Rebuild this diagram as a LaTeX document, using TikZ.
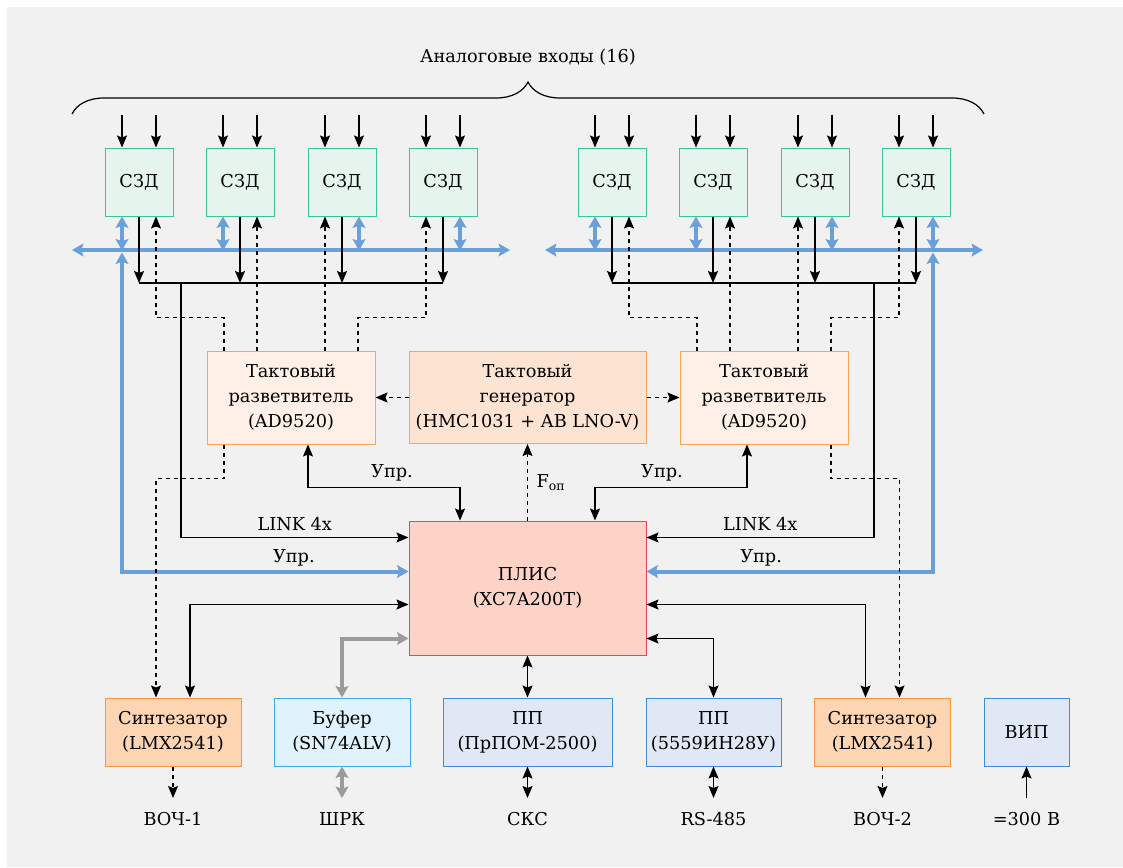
\documentclass[tikz,border=0pt]{standalone}
\usepackage{fontspec}
\setmainfont{DejaVu Serif}
\usetikzlibrary{arrows.meta,calc,decorations.pathreplacing}

\definecolor{bgcol}{HTML}{F1F1F1}
\definecolor{szdfill}{HTML}{E6F4EE}
\definecolor{szdline}{HTML}{3CC397}
\definecolor{splfill}{HTML}{FEF0E6}
\definecolor{genfill}{HTML}{FDE4D2}
\definecolor{clkline}{HTML}{F9A55A}
\definecolor{plisfill}{HTML}{FDD3C7}
\definecolor{plisline}{HTML}{E8475B}
\definecolor{synfill}{HTML}{FDD5B2}
\definecolor{synline}{HTML}{F7953C}
\definecolor{buffill}{HTML}{E0F2FB}
\definecolor{bufline}{HTML}{3AB0E2}
\definecolor{ppfill}{HTML}{E0E8F5}
\definecolor{ppline}{HTML}{3E8FD2}
\definecolor{busblue}{HTML}{6A9FD8}
\definecolor{busgray}{HTML}{9B9B9B}

\tikzset{
  box/.style={inner sep=0pt, align=center, line width=0.75pt},
  szd/.style={box, draw=szdline, fill=szdfill, minimum width=51pt, minimum height=51pt},
  splitter/.style={box, draw=clkline, fill=splfill, minimum width=126pt, minimum height=69.75pt},
  clockgen/.style={box, draw=clkline, fill=genfill, minimum width=177.75pt, minimum height=69pt},
  plisbox/.style={box, draw=plisline, fill=plisfill, minimum width=177.75pt, minimum height=100.5pt},
  synbox/.style={box, draw=synline, fill=synfill, minimum width=102pt, minimum height=51pt},
  bufbox/.style={box, draw=bufline, fill=buffill, minimum width=102pt, minimum height=51pt},
  ppbox/.style={box, draw=ppline, fill=ppfill, minimum height=51pt},
  term/.style={anchor=north, inner xsep=0pt, inner ysep=10.5pt},
  wire/.style={line width=0.9pt, >={Stealth[length=9pt,width=7.5pt,inset=1.5pt]}},
  clk/.style={wire, dash pattern=on 3pt off 3pt},
  bus/.style={line width=3pt, color=busblue, >={Stealth[length=8.5pt,width=9.5pt,inset=1.5pt]}},
  gbus/.style={line width=3pt, color=busgray, >={Stealth[length=8.5pt,width=9.5pt,inset=1.5pt]}},
}

\begin{document}
\begin{tikzpicture}[x=0.75pt,y=0.75pt,yscale=-1,xscale=1,font=\fontsize{13.3pt}{18.75pt}\selectfont]
	\useasboundingbox (0,0) rectangle (1123,867);
	\fill[white] (0,0) rectangle (1123,867);
	\fill[bgcol] (7,7) rectangle (1123,867);

	% Brace + title
	\draw[line width=0.9pt, decorate, decoration={brace, amplitude=24pt}] (72,114) -- (984,114);
	\node (title) at (528,57) {Аналоговые входы (16)};

	% СЗД
	\node[szd] (szd1) at (139,182) {СЗД};
	\node[szd] (szd2) at (240,182) {СЗД};
	\node[szd] (szd3) at (342,182) {СЗД};
	\node[szd] (szd4) at (443,182) {СЗД};
	\node[szd] (szd5) at (612,182) {СЗД};
	\node[szd] (szd6) at (713,182) {СЗД};
	\node[szd] (szd7) at (815,182) {СЗД};
	\node[szd] (szd8) at (916,182) {СЗД};

	% Clock boxes
	\node[splitter] (spl1) at (291,397.5) {Тактовый\\разветвитель\\(AD9520)};
	\node[clockgen] (gen) at (527.5,397.5) {Тактовый\\генератор\\(HMC1031 + AB LNO-V)};
	\node[splitter] (spl2) at (764,397.5) {Тактовый\\разветвитель\\(AD9520)};

	% ПЛИС
	\node[plisbox] (plis) at (527.5,588) {ПЛИС\\(XC7A200T)};

	% Bottom row
	\node[synbox] (syn1) at (173,732) {Синтезатор\\(LMX2541)};
	\node[bufbox] (buf) at (342,732) {Буфер\\(SN74ALV)};
	\node[ppbox, minimum width=126.75pt] (pp1) at (527.5,732) {ПП\\(ПрПОМ-2500)};
	\node[ppbox, minimum width=101.25pt] (pp2) at (713.5,732) {ПП\\(5559ИН28У)};
	\node[synbox] (syn2) at (882.5,732) {Синтезатор\\(LMX2541)};
	\node[ppbox, minimum width=63.75pt] (vip) at (1026.5,732) {ВИП};

	% Terminals
	\node[term] (voch1) at (173,798) {ВОЧ-1};
	\node[term] (shrk) at (342,798) {ШРК};
	\node[term] (sks) at (527.5,798) {СКС};
	\node[term] (rs485) at (713.5,798) {RS-485};
	\node[term] (voch2) at (882.5,798) {ВОЧ-2};
	\node[term] (pwr) at (1026.5,798) {=300 В};

	% Analog inputs
	\draw[wire,->] ($(szd1.north)+(-17,-33)$) -- ($(szd1.north)+(-17,0)$);
	\draw[wire,->] ($(szd1.north)+(17,-33)$) -- ($(szd1.north)+(17,0)$);
	\draw[wire,->] ($(szd2.north)+(-17,-33)$) -- ($(szd2.north)+(-17,0)$);
	\draw[wire,->] ($(szd2.north)+(17,-33)$) -- ($(szd2.north)+(17,0)$);
	\draw[wire,->] ($(szd3.north)+(-17,-33)$) -- ($(szd3.north)+(-17,0)$);
	\draw[wire,->] ($(szd3.north)+(17,-33)$) -- ($(szd3.north)+(17,0)$);
	\draw[wire,->] ($(szd4.north)+(-17,-33)$) -- ($(szd4.north)+(-17,0)$);
	\draw[wire,->] ($(szd4.north)+(17,-33)$) -- ($(szd4.north)+(17,0)$);
	\draw[wire,->] ($(szd5.north)+(-17,-33)$) -- ($(szd5.north)+(-17,0)$);
	\draw[wire,->] ($(szd5.north)+(17,-33)$) -- ($(szd5.north)+(17,0)$);
	\draw[wire,->] ($(szd6.north)+(-17,-33)$) -- ($(szd6.north)+(-17,0)$);
	\draw[wire,->] ($(szd6.north)+(17,-33)$) -- ($(szd6.north)+(17,0)$);
	\draw[wire,->] ($(szd7.north)+(-17,-33)$) -- ($(szd7.north)+(-17,0)$);
	\draw[wire,->] ($(szd7.north)+(17,-33)$) -- ($(szd7.north)+(17,0)$);
	\draw[wire,->] ($(szd8.north)+(-17,-33)$) -- ($(szd8.north)+(-17,0)$);
	\draw[wire,->] ($(szd8.north)+(17,-33)$) -- ($(szd8.north)+(17,0)$);

	% Buses
	\coordinate (busL1) at (72,250);
	\coordinate (busL2) at (510,250);
	\coordinate (busR1) at (545,250);
	\coordinate (busR2) at (983,250);
	\draw[bus,<->] (busL1) -- (busL2);
	\draw[bus,<->] (busR1) -- (busR2);
	\draw[bus,<->] ($(szd1.south)+(-17,0)$) -- ($(szd1.south)+(-17,34)$);
	\draw[bus,<->] ($(szd2.south)+(-17,0)$) -- ($(szd2.south)+(-17,34)$);
	\draw[bus,<->] ($(szd3.south)+(17,0)$) -- ($(szd3.south)+(17,34)$);
	\draw[bus,<->] ($(szd4.south)+(17,0)$) -- ($(szd4.south)+(17,34)$);
	\draw[bus,<->] ($(szd5.south)+(-17,0)$) -- ($(szd5.south)+(-17,34)$);
	\draw[bus,<->] ($(szd6.south)+(-17,0)$) -- ($(szd6.south)+(-17,34)$);
	\draw[bus,<->] ($(szd7.south)+(17,0)$) -- ($(szd7.south)+(17,34)$);
	\draw[bus,<->] ($(szd8.south)+(17,0)$) -- ($(szd8.south)+(17,34)$);

	% Data lines
	\coordinate (dataL) at (181,283);
	\coordinate (dataR) at (874,283);
	\draw[wire,->] (szd1.south) -- (szd1.south |- dataL);
	\draw[wire,->] (szd2.south) -- (szd2.south |- dataL);
	\draw[wire,->] (szd3.south) -- (szd3.south |- dataL);
	\draw[wire,->] (szd4.south) -- (szd4.south |- dataL);
	\draw[wire,->] (szd5.south) -- (szd5.south |- dataR);
	\draw[wire,->] (szd6.south) -- (szd6.south |- dataR);
	\draw[wire,->] (szd7.south) -- (szd7.south |- dataR);
	\draw[wire,->] (szd8.south) -- (szd8.south |- dataR);
	\draw[wire] (szd1.south |- dataL) -- (szd4.south |- dataL);
	\draw[wire] (szd5.south |- dataR) -- (szd8.south |- dataR);
	\draw[wire,->] (dataL) |- ($(plis.north west)+(0,17)$) node[pos=0.75, above=1pt] (linkL) {LINK 4x};
	\draw[wire,->] (dataR) |- ($(plis.north east)+(0,17)$) node[pos=0.75, above=1pt] (linkR) {LINK 4x};

	% Control bus
	\draw[bus,<->] ($(szd1.south)+(-17,36)$) |- ($(plis.north west)+(0,51)$) node[pos=0.8, above=-1pt, text=black] (uprL) {Упр.};
	\draw[bus,<->] ($(szd8.south)+(17,36)$) |- ($(plis.north east)+(0,51)$) node[pos=0.8, above=-1pt, text=black] (uprR) {Упр.};

	% Clock distribution
	\draw[clk,->] ($(spl1.north)+(-67,0)$) -- ++(0,-33) -| ($(szd1.south)+(17,0)$);
	\draw[clk,->] ($(spl1.north)+(-34,0)$) -- ($(szd2.south)+(17,0)$);
	\draw[clk,->] ($(spl1.north)+(34,0)$) -- ($(szd3.south)+(-17,0)$);
	\draw[clk,->] ($(spl1.north)+(67,0)$) -- ++(0,-33) -| ($(szd4.south)+(-17,0)$);
	\draw[clk,->] ($(spl2.north)+(-67,0)$) -- ++(0,-33) -| ($(szd5.south)+(17,0)$);
	\draw[clk,->] ($(spl2.north)+(-34,0)$) -- ($(szd6.south)+(17,0)$);
	\draw[clk,->] ($(spl2.north)+(34,0)$) -- ($(szd7.south)+(-17,0)$);
	\draw[clk,->] ($(spl2.north)+(67,0)$) -- ++(0,-33) -| ($(szd8.south)+(-17,0)$);
	\draw[clk,->] (gen.west) -- (spl1.east);
	\draw[clk,->] (gen.east) -- (spl2.west);
	\draw[clk,->] (plis.north) -- (gen.south) node[pos=0.5, right=3pt] (fop) {F\textsubscript{оп}};
	\draw[clk,->] ($(spl1.south)+(-67,0)$) -- ++(0,34) -| ($(syn1.north)+(-17,0)$);
	\draw[clk,->] ($(spl2.south)+(67,0)$) -- ++(0,34) -| ($(syn2.north)+(17,0)$);

	% Splitter control
	\draw[wire,<->] ($(spl1.south)+(17,0)$) -- ++(0,43) -| ($(plis.north)+(-67.5,0)$);
	\draw[wire,<->] ($(spl2.south)+(-17,0)$) -- ++(0,43) -| ($(plis.north)+(67.5,0)$);
	\node (uprSL) at (392,473) {Упр.};
	\node (uprSR) at (662,473) {Упр.};

	% ПЛИС to bottom row
	\draw[wire,<->] ($(syn1.north)+(17,0)$) |- ($(plis.north west)+(0,84)$);
	\draw[gbus,<->] (buf.north) |- ($(plis.north west)+(0,118)$);
	\draw[wire,<->] (plis.south) -- (pp1.north);
	\draw[wire,<->] ($(plis.north east)+(0,118)$) -| (pp2.north);
	\draw[wire,<->] ($(plis.north east)+(0,84)$) -| ($(syn2.north)+(-17,0)$);

	% Outputs
	\draw[clk,->] (syn1.south) -- (voch1.north);
	\draw[gbus,<->] (buf.south) -- (shrk.north);
	\draw[wire,<->] (pp1.south) -- (sks.north);
	\draw[wire,<->] (pp2.south) -- (rs485.north);
	\draw[clk,->] (syn2.south) -- (voch2.north);
	\draw[wire,->] (pwr.north) -- (vip.south);

\end{tikzpicture}
\end{document}
